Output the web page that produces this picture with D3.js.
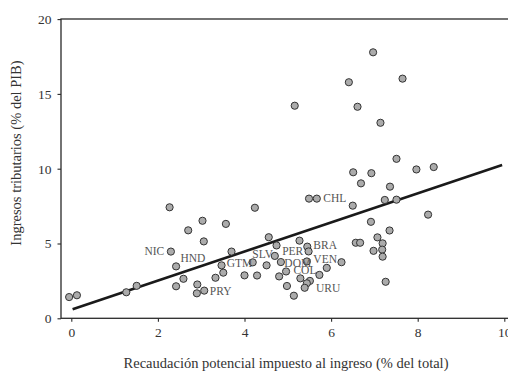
<!DOCTYPE html>
<html>
<head>
<meta charset="utf-8">
<script src="https://cdn.jsdelivr.net/npm/d3@7/dist/d3.min.js"></script>
<style>
  body { margin: 0; background: #fff; }
  svg { display: block; }
  text { font-family: "Liberation Serif", "Times New Roman", serif; }
</style>
</head>
<body>
<svg id="chart" width="508" height="372"></svg>
<script>
// Potential income-tax collection (% of total) for each observation
const potentialIncomeTax = [
  -0.05, 0.13, 1.27, 1.51, 2.27, 2.30, 2.42, 2.42, 2.70, 3.03,
  3.06, 3.57, 4.24, 3.70, 3.47, 3.51, 3.33, 2.59, 2.91, 2.90,
  3.07, 4.00, 4.29, 4.19, 4.51, 4.56, 4.74, 4.70, 4.84, 4.80,
  5.27, 5.45, 5.48, 5.44, 4.96, 5.90, 5.73, 6.24, 5.29, 5.51,
  5.44, 4.98, 5.39, 5.14, 5.49, 5.67, 6.50, 6.69, 7.36, 7.24,
  7.51, 6.92, 7.35, 7.07, 7.19, 6.57, 6.67, 6.98, 7.18, 7.19,
  7.26, 8.24, 7.51, 7.97, 8.37, 6.51, 6.93, 6.97, 6.41, 7.65,
  5.16, 6.61, 7.14
];

// Tax revenue (% of GDP) for the same observations
const taxRevenue = [
  1.42, 1.54, 1.74, 2.17, 7.42, 4.46, 3.47, 2.14, 5.88, 6.52,
  5.14, 6.31, 7.39, 4.46, 3.54, 3.05, 2.71, 2.64, 2.26, 1.67,
  1.85, 2.87, 2.86, 3.74, 3.54, 5.42, 4.87, 4.17, 3.76, 2.80,
  5.19, 4.79, 4.47, 3.80, 3.13, 3.37, 2.90, 3.75, 2.67, 2.50,
  2.34, 2.16, 2.04, 1.51, 8.00, 8.00, 7.53, 9.02, 8.80, 7.91,
  7.93, 6.45, 5.87, 5.41, 5.01, 5.05, 5.05, 4.51, 4.59, 4.12,
  2.44, 6.93, 10.66, 9.95, 10.11, 9.76, 9.70, 17.78, 15.78, 16.02,
  14.21, 14.14, 13.07
];

// Country codes and where each one is written (data units, text baseline start)
const countryNames = ["NIC", "HND", "GTM", "SLV", "PER", "DOM", "COL", "BRA", "VEN", "URU", "CHL", "PRY"];
const labelX = [1.69, 2.52, 3.59, 4.18, 4.87, 4.92, 5.13, 5.59, 5.59, 5.65, 5.82, 3.20];
const labelY = [4.20, 3.73, 3.46, 4.06, 4.21, 3.45, 2.96, 4.61, 3.68, 1.78, 7.75, 1.56];

// Fitted linear trend, end points
const trendX = [0.03, 9.95];
const trendY = [0.60, 10.25];

const xTicks = [0, 2, 4, 6, 8, 10];
const yTicks = [0, 5, 10, 15, 20];
const xTitle = "Recaudación potencial impuesto al ingreso (% del total)";
const yTitle = "Ingresos tributarios (% del PIB)";

const svg = d3.select("#chart");
const frame = { left: 61, right: 530, top: 19, bottom: 318.3 };

const x = d3.scaleLinear().domain([0, 10]).range([71.3, 504.3]);
const y = d3.scaleLinear().domain([0, 20]).range([318.3, 19.1]);

const ink = "#2a2a2a";
const textInk = "#333";

// plot frame (top edge continues past the right side)
svg.append("rect")
  .attr("x", frame.left).attr("y", frame.top)
  .attr("width", frame.right - frame.left).attr("height", frame.bottom - frame.top)
  .attr("fill", "none").attr("stroke", ink).attr("stroke-width", 1.3);

// x axis
const xAxis = svg.append("g")
  .attr("transform", `translate(0,${frame.bottom})`)
  .call(d3.axisBottom(x).tickValues(xTicks).tickSize(3.5).tickPadding(6).tickFormat(d3.format("d")));
xAxis.select(".domain").remove();
xAxis.selectAll("line").attr("stroke", ink).attr("stroke-width", 1.1);
xAxis.selectAll("text").attr("font-size", 13.5).attr("fill", textInk)
  .style("font-family", '"Liberation Serif", serif');

// y axis
const yAxis = svg.append("g")
  .attr("transform", `translate(${frame.left},0)`)
  .call(d3.axisLeft(y).tickValues(yTicks).tickSize(3.5).tickPadding(6).tickFormat(d3.format("d")));
yAxis.select(".domain").remove();
yAxis.selectAll("line").attr("stroke", ink).attr("stroke-width", 1.1);
yAxis.selectAll("text").attr("font-size", 13.5).attr("fill", textInk)
  .style("font-family", '"Liberation Serif", serif');

// trend line
const trend = trendX.map((v, i) => [v, trendY[i]]);
svg.append("path")
  .datum(trend)
  .attr("d", d3.line().x(d => x(d[0])).y(d => y(d[1])))
  .attr("fill", "none").attr("stroke", "#1a1a1a").attr("stroke-width", 2.6);

// observations
const points = potentialIncomeTax.map((v, i) => ({ x: v, y: taxRevenue[i] }));
svg.append("g").selectAll("circle")
  .data(points)
  .join("circle")
  .attr("cx", d => x(d.x))
  .attr("cy", d => y(d.y))
  .attr("r", 3.6)
  .attr("fill", "#ababab")
  .attr("stroke", "#333")
  .attr("stroke-width", 1);

// country labels
svg.append("g").selectAll("text")
  .data(countryNames.map((n, i) => ({ name: n, x: labelX[i], y: labelY[i] })))
  .join("text")
  .attr("x", d => x(d.x))
  .attr("y", d => y(d.y))
  .attr("font-size", 11.5)
  .attr("fill", "#555")
  .text(d => d.name);

// axis titles
svg.append("text")
  .attr("x", 286).attr("y", 368)
  .attr("text-anchor", "middle")
  .attr("font-size", 14.5).attr("fill", textInk)
  .text(xTitle);

svg.append("text")
  .attr("transform", "translate(21,153) rotate(-90)")
  .attr("text-anchor", "middle")
  .attr("font-size", 14.5).attr("fill", textInk)
  .text(yTitle);
</script>
</body>
</html>
